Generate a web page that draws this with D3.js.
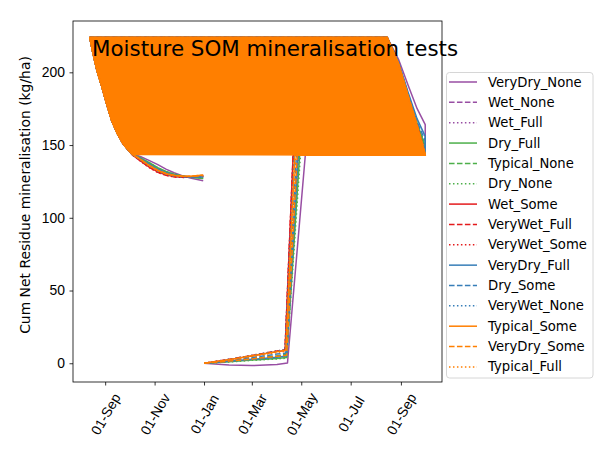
<!DOCTYPE html>
<html>
<head>
<meta charset="utf-8">
<script src="https://cdn.jsdelivr.net/npm/d3@7.9.0/dist/d3.min.js"></script>
<style>
  body { margin: 0; background: #fff; }
  svg { font-family: "DejaVu Sans", sans-serif; }
</style>
</head>
<body>
<svg id="chart" width="615" height="461"></svg>
<script>
// --- data ---
const seriesNames = ['VeryDry_None', 'Wet_None', 'Wet_Full', 'Dry_Full', 'Typical_None', 'Dry_None',
  'Wet_Some', 'VeryWet_Full', 'VeryWet_Some', 'VeryDry_Full', 'Dry_Some', 'VeryWet_None',
  'Typical_Some', 'VeryDry_Some', 'Typical_Full'];

// spring: slow rise from 1 Jan, then the jump up to the plateau
const lowDates = ['2022-01-01', '2022-02-01', '2022-03-01', '2022-04-01'];
const lowVals = [
  [0, -1.2, -1.6, -0.8], [0, 1.5, 3, 5], [0, 1.2, 2.6, 4.2],
  [0, 1, 2.2, 3.3], [0, 1.6, 3.2, 5], [0, 0.9, 2, 3],
  [0, 2.5, 5, 8], [0, 2.7, 5.4, 8.5], [0, 2.6, 5.3, 8.3],
  [0, 1.3, 2.7, 4.2], [0, 2, 4, 6.3], [0, 2.7, 5.4, 8.4],
  [0, 2.5, 5.1, 8], [0, 1.5, 3, 4.8], [0, 2.3, 4.7, 7.4]
];
const riseFromDates = ['2022-04-14', '2022-04-13', '2022-04-13', '2022-04-13', '2022-04-12', '2022-04-13',
  '2022-04-11', '2022-04-11', '2022-04-11', '2022-04-13', '2022-04-12', '2022-04-11',
  '2022-04-12', '2022-04-13', '2022-04-12'];
const riseFromVals = [0.2, 6, 5, 4, 6, 3.5, 8.8, 9.3, 9, 5, 7, 9.2, 9, 5.5, 8.2];
const riseToDates = ['2022-05-06', '2022-04-27', '2022-04-28', '2022-04-29', '2022-04-27', '2022-04-30',
  '2022-04-21', '2022-04-21', '2022-04-21', '2022-04-27', '2022-04-25', '2022-04-22',
  '2022-04-23', '2022-04-26', '2022-04-24'];
const plateau = 143;

// right edge (second September), listed top to bottom
const rightDates = ['2022-08-15', '2022-08-29', '2022-09-10', '2022-09-21', '2022-10-01'];
const rightVals = [
  [224, 209, 191, 175, 164], [224, 206, 184, 164, 147], [224, 206, 184, 165, 150],
  [224, 206, 184, 165, 149], [224, 206, 184, 164, 148], [224, 206, 184, 165, 150],
  [224, 206, 183, 163, 145], [224, 206, 183, 163, 144], [224, 206, 183, 163, 144],
  [224, 207, 186, 168, 156], [224, 207, 185, 166, 153], [224, 206, 183, 163, 146],
  [224, 206, 183, 163, 143], [224, 206, 184, 164, 144], [224, 206, 183, 163, 143.5]
];

// left edge (first autumn), shared, then the hook down to 31 Dec
const leftDates = ['2021-08-13', '2021-08-17', '2021-08-22', '2021-08-28', '2021-09-03',
  '2021-09-09', '2021-09-16', '2021-09-23', '2021-09-29'];
const leftVals = [224, 213, 201, 190, 178, 167, 158, 151, 147];
const hookDates = ['2021-10-05', '2021-10-15', '2021-10-25', '2021-11-05', '2021-11-15',
  '2021-11-25', '2021-12-05', '2021-12-15', '2021-12-31'];
const hookVals = [
  [144, 142, 139.5, 136.5, 133.5, 131, 129, 127.3, 125.5],
  [143.5, 140, 136.5, 133, 130.5, 129, 128.2, 128, 128.5],
  [143.5, 140.2, 136.8, 133.3, 130.8, 129.2, 128.3, 127.9, 128],
  [143.5, 141, 138, 134.5, 131.8, 130, 128.7, 127.8, 127],
  [143.5, 140.8, 137.5, 134, 131.5, 129.8, 128.6, 127.9, 127.6],
  [143.5, 141, 137.8, 134.3, 131.7, 130, 128.8, 128, 127.3],
  [143, 139, 135, 131.5, 129.5, 128.3, 127.8, 128, 129],
  [143, 139, 134.8, 131.3, 129.3, 128.2, 127.8, 127.9, 128.6],
  [143, 138.8, 134.6, 131.2, 129.2, 128.1, 127.7, 127.9, 128.8],
  [143.5, 140.5, 137, 133.5, 131, 129.5, 128.5, 128, 128],
  [143.5, 140.3, 136.6, 133.2, 130.8, 129.3, 128.5, 128.2, 128.5],
  [143, 139.5, 135.5, 132, 129.8, 128.5, 128, 128, 128.8],
  [143.5, 140, 136, 132.5, 130.3, 129, 128.6, 128.6, 129.5],
  [143.5, 140, 136.2, 132.8, 130.5, 129.2, 128.6, 128.4, 129],
  [143.5, 140, 136, 132.6, 130.4, 129, 128.5, 128.6, 129.3]
];
const yTicks = [0, 50, 100, 150, 200];

// --- styles ---
const palette = ['#984ea3', '#4daf4a', '#e41a1c', '#377eb8', '#ff7f00'];
const dashes = [null, '5.55,2.4', '1.5,2.475'];
const fillSeries = 12; // Typical_Some paints the big band
const fs = 13.9;

// --- layout ---
const svg = d3.select('#chart');
const m = { left: 73, top: 21, right: 442, bottom: 382 };
const parse = d3.timeParse('%Y-%m-%d');

function seriesPoints(i) {
  let pts = lowDates.map((d, k) => [d, lowVals[i][k]]);
  pts.push([riseFromDates[i], riseFromVals[i]]);
  pts.push([riseToDates[i], plateau]);
  pts.push([rightDates[rightDates.length - 1], plateau]);
  for (let k = rightDates.length - 1; k >= 0; k--) pts.push([rightDates[k], rightVals[i][k]]);
  leftDates.forEach((d, k) => pts.push([d, leftVals[k]]));
  hookDates.forEach((d, k) => pts.push([d, hookVals[i][k]]));
  return pts.map(([d, v]) => [parse(d), v]);
}

const allSeries = seriesNames.map((n, i) => seriesPoints(i));
const flat = allSeries.flat();

// matplotlib style 5% margins
const [xMin, xMax] = d3.extent(flat, (d) => d[0]);
const xPad = (xMax - xMin) * 0.05;
const [yMin, yMax] = d3.extent(flat, (d) => d[1]);
const yPad = (yMax - yMin) * 0.05;

const x = d3.scaleTime()
  .domain([new Date(+xMin - xPad), new Date(+xMax + xPad)])
  .range([m.left, m.right]);
const y = d3.scaleLinear()
  .domain([yMin - yPad, yMax + yPad])
  .range([m.bottom, m.top]);

const line = d3.line().x((d) => x(d[0])).y((d) => y(d[1]));

const plot = svg.append('g');

allSeries.forEach((pts, i) => {
  if (i === fillSeries) {
    // the band swept by the wrapping lines, closed from the same series
    let band = leftDates.map((d, k) => [parse(d), leftVals[k]]);
    band.push([parse(hookDates[0]), hookVals[i][0]]);
    band.push([parse(rightDates[rightDates.length - 1]), plateau]);
    for (let k = rightDates.length - 1; k >= 0; k--) band.push([parse(rightDates[k]), rightVals[i][k]]);
    plot.append('path')
      .attr('d', line(band) + 'Z')
      .attr('fill', palette[4])
      .attr('stroke', palette[4])
      .attr('stroke-width', 1.5);
  }
  plot.append('path')
    .attr('d', line(pts))
    .attr('fill', 'none')
    .attr('stroke', palette[Math.floor(i / 3)])
    .attr('stroke-width', 1.5)
    .attr('stroke-linejoin', 'round')
    .attr('stroke-dasharray', dashes[i % 3]);
});

// --- axes ---
const xAxis = svg.append('g')
  .attr('transform', `translate(0,${m.bottom})`)
  .call(d3.axisBottom(x).ticks(d3.timeMonth.every(2)).tickFormat(d3.timeFormat('%d-%b')).tickSizeOuter(0).tickSize(3.5));
xAxis.select('.domain').remove();
xAxis.selectAll('line').attr('stroke', '#000').attr('stroke-width', 0.8);
xAxis.selectAll('text')
  .attr('font-size', fs)
  .attr('fill', '#000')
  .attr('text-anchor', 'middle')
  .attr('dominant-baseline', 'central')
  .attr('y', 0)
  .attr('dy', 0)
  .attr('transform', 'translate(0,32) rotate(-60)');

const yAxis = svg.append('g')
  .attr('transform', `translate(${m.left},0)`)
  .call(d3.axisLeft(y).tickValues(yTicks).tickSizeOuter(0).tickSize(3.5).tickPadding(4.5));
yAxis.select('.domain').remove();
yAxis.selectAll('line').attr('stroke', '#000').attr('stroke-width', 0.8);
yAxis.selectAll('text').attr('font-size', fs).attr('fill', '#000');

svg.append('rect')
  .attr('x', m.left).attr('y', m.top)
  .attr('width', m.right - m.left).attr('height', m.bottom - m.top)
  .attr('fill', 'none').attr('stroke', '#000').attr('stroke-width', 0.8);

svg.append('text')
  .attr('transform', 'translate(25,195) rotate(-90)')
  .attr('text-anchor', 'middle')
  .attr('dominant-baseline', 'central')
  .attr('font-size', fs)
  .text('Cum Net Residue mineralisation (kg/ha)');

svg.append('text')
  .attr('x', 92).attr('y', 56)
  .attr('font-size', 21.4)
  .attr('fill', '#000')
  .text('Moisture SOM mineralisation tests');

// --- legend ---
const legend = svg.append('g');
legend.append('rect')
  .attr('x', 446.5).attr('y', 72.5).attr('width', 146.5).attr('height', 305.5)
  .attr('rx', 3)
  .attr('fill', 'rgba(255,255,255,0.8)').attr('stroke', '#cccccc').attr('stroke-width', 0.8);
seriesNames.forEach((name, i) => {
  const ly = 82 + i * 20.35;
  legend.append('line')
    .attr('x1', 449).attr('x2', 477).attr('y1', ly).attr('y2', ly)
    .attr('stroke', palette[Math.floor(i / 3)])
    .attr('stroke-width', 1.5)
    .attr('stroke-dasharray', dashes[i % 3]);
  legend.append('text')
    .attr('x', 488).attr('y', ly)
    .attr('dominant-baseline', 'central')
    .attr('font-size', 13.2)
    .text(name);
});
</script>
</body>
</html>
